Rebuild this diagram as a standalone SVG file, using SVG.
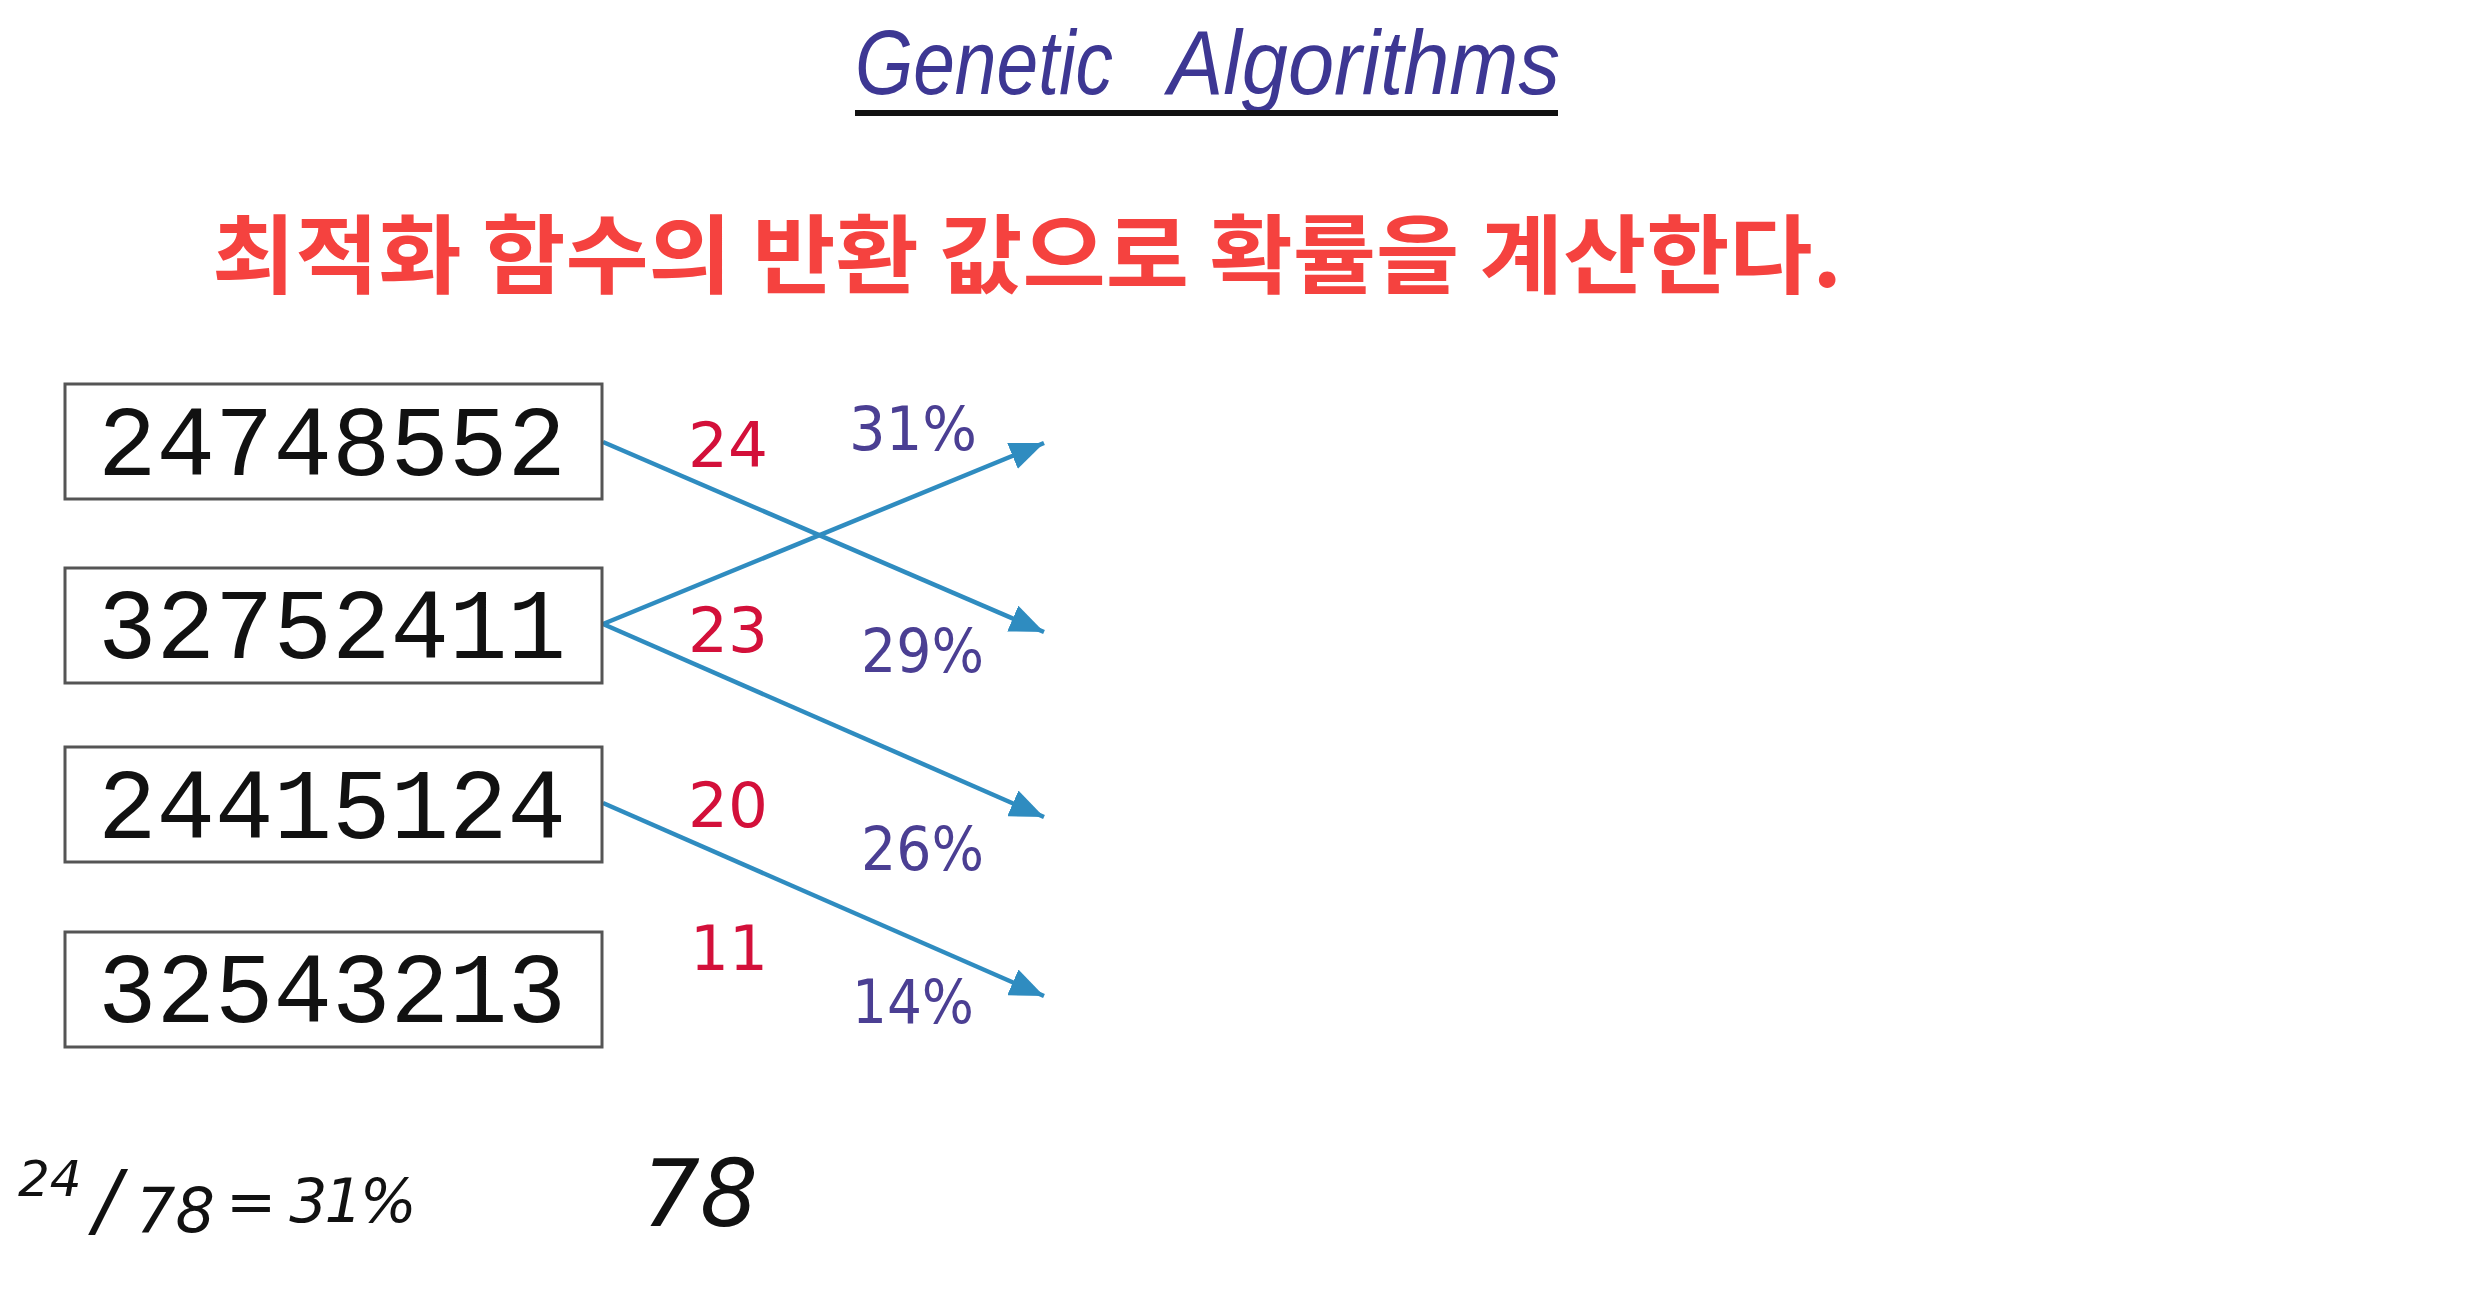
<svg xmlns="http://www.w3.org/2000/svg" width="2484" height="1312" viewBox="0 0 2484 1312">
<style>
.box{fill:#fff;stroke:#555;stroke-width:3}
.dig{font-family:"Liberation Mono","DejaVu Sans Mono",monospace;font-size:100px;fill:#111}
.fit{font-family:"DejaVu Sans","Liberation Sans",sans-serif;font-size:62px;fill:#d3103a}
.pct{font-family:"DejaVu Sans","Liberation Sans",sans-serif;font-size:60px;fill:#4b3f93}
.conn{stroke:#2f8cc0;stroke-width:4.5;fill:none;marker-end:url(#ah)}
.hand{font-family:"DejaVu Sans","Liberation Sans",sans-serif;font-style:italic;fill:#111}
.ttl{font-family:"Liberation Sans",sans-serif;font-style:italic;font-size:90px;fill:#3d3793}
</style>
<defs>
<marker id="ah" markerUnits="userSpaceOnUse" markerWidth="36" markerHeight="28" refX="34" refY="14" orient="auto">
<path d="M0,0 L34,14 L0,28 Z" fill="#2f8cc0"/>
</marker>
</defs>
<rect width="2484" height="1312" fill="#fff"/>
<g id="title">
<text class="ttl" x="855" y="94" textLength="258" lengthAdjust="spacingAndGlyphs">Genetic</text>
<text class="ttl" x="1168" y="94" textLength="392" lengthAdjust="spacingAndGlyphs">Algorithms</text>
<rect x="855" y="110" width="703" height="6" fill="#111"/>
</g>
<g id="subtitle">
<text x="212" y="287" font-family="Noto Sans CJK KR, sans-serif" font-weight="bold" font-size="86" fill="#f5423f" textLength="1630" lengthAdjust="spacingAndGlyphs">최적화 함수의 반환 값으로 확률을 계산한다.</text>
</g>
<g id="connectors">
<line class="conn" x1="603" y1="442" x2="1044" y2="632"/>
<line class="conn" x1="603" y1="624" x2="1044" y2="443"/>
<line class="conn" x1="603" y1="624" x2="1044" y2="817"/>
<line class="conn" x1="603" y1="803" x2="1044" y2="996"/>
</g>
<g id="node1">
<rect class="box" x="65" y="384" width="537" height="115"/>
<text class="dig" x="98" y="475" textLength="468" lengthAdjust="spacingAndGlyphs">24748552</text>
</g>
<g id="node2">
<rect class="box" x="65" y="568" width="537" height="115"/>
<text class="dig" x="98" y="658" textLength="468" lengthAdjust="spacingAndGlyphs">32752411</text>
</g>
<g id="node3">
<rect class="box" x="65" y="747" width="537" height="115"/>
<text class="dig" x="98" y="838" textLength="468" lengthAdjust="spacingAndGlyphs">24415124</text>
</g>
<g id="node4">
<rect class="box" x="65" y="932" width="537" height="115"/>
<text class="dig" x="98" y="1022" textLength="468" lengthAdjust="spacingAndGlyphs">32543213</text>
</g>
<g id="fitness">
<text class="fit" x="688" y="467" textLength="80" lengthAdjust="spacingAndGlyphs">24</text>
<text class="fit" x="688" y="652" textLength="80" lengthAdjust="spacingAndGlyphs">23</text>
<text class="fit" x="688" y="827" textLength="80" lengthAdjust="spacingAndGlyphs">20</text>
<text class="fit" x="690" y="970" textLength="78" lengthAdjust="spacingAndGlyphs">11</text>
</g>
<g id="percent">
<text class="pct" x="849" y="450" textLength="128" lengthAdjust="spacingAndGlyphs">31%</text>
<text class="pct" x="861" y="672" textLength="123" lengthAdjust="spacingAndGlyphs">29%</text>
<text class="pct" x="861" y="870" textLength="123" lengthAdjust="spacingAndGlyphs">26%</text>
<text class="pct" x="852" y="1023" textLength="122" lengthAdjust="spacingAndGlyphs">14%</text>
</g>
<g id="note">
<text class="hand" x="18" y="1196" font-size="50">24<tspan x="94" y="1228" font-size="80">/</tspan><tspan x="136" y="1232" font-size="62">78</tspan><tspan x="226" y="1222" font-size="60" letter-spacing="-3">= 31%</tspan></text>
<text class="hand" x="642" y="1226" font-size="92" textLength="116" lengthAdjust="spacingAndGlyphs">78</text>
</g>
</svg>
